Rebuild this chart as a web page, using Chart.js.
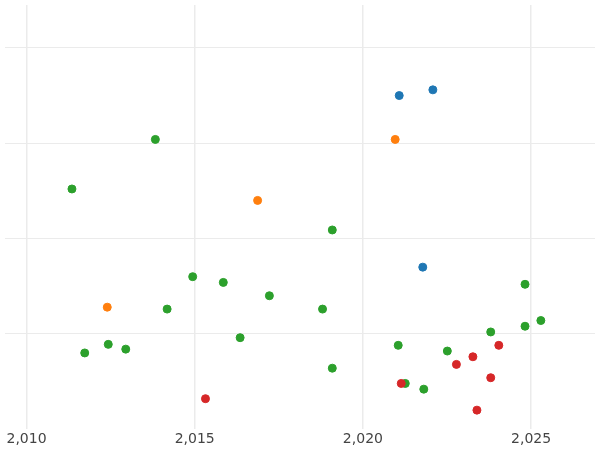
<!DOCTYPE html>
<html>
<head>
<script src="https://cdn.jsdelivr.net/npm/chart.js@4"></script>
<style>
  body { margin: 0; background: #fff; }
</style>
</head>
<body>
<canvas id="chart" width="600" height="450"></canvas>
<script>
const xTicks = [2010, 2015, 2020, 2025];
const yTicks = [1, 2, 3, 4];

const blueX = [2021.08, 2022.08, 2021.78];
const blueY = [3.50, 3.56, 1.70];
const orangeX = [2020.96, 2016.87, 2012.40];
const orangeY = [3.04, 2.40, 1.28];
const redX = [2015.32, 2021.14, 2022.78, 2023.27, 2024.04, 2023.80, 2023.39];
const redY = [0.32, 0.48, 0.68, 0.76, 0.88, 0.54, 0.20];
const greenX = [2011.35, 2013.83, 2019.09, 2014.94, 2015.85, 2017.22, 2014.18, 2018.80, 2016.35, 2011.73,
  2012.43, 2012.95, 2019.09, 2021.05, 2021.26, 2021.81, 2022.51, 2023.80, 2024.82, 2024.82, 2025.29];
const greenY = [2.52, 3.04, 2.09, 1.60, 1.54, 1.40, 1.26, 1.26, 0.96, 0.80,
  0.89, 0.84, 0.64, 0.88, 0.48, 0.42, 0.82, 1.02, 1.52, 1.08, 1.14];

function pts(xs, ys) {
  return xs.map((x, i) => ({ x: x, y: ys[i] }));
}

function series(xs, ys, color) {
  return {
    data: pts(xs, ys),
    backgroundColor: color,
    borderColor: color,
    pointRadius: 4,
    pointHoverRadius: 4
  };
}

new Chart(document.getElementById('chart'), {
  type: 'scatter',
  data: {
    datasets: [
      series(blueX, blueY, '#1f77b4'),
      series(orangeX, orangeY, '#ff7f0e'),
      series(redX, redY, '#d62728'),
      series(greenX, greenY, '#2ca02c')
    ]
  },
  options: {
    responsive: false,
    animation: false,
    layout: { padding: 0 },
    plugins: { legend: { display: false }, tooltip: { enabled: false } },
    scales: {
      x: {
        type: 'linear',
        min: 2009.36,
        max: 2026.9,
        afterBuildTicks: (axis) => { axis.ticks = xTicks.map(v => ({ value: v })); },
        ticks: { color: '#444', font: { family: 'DejaVu Sans', size: 14 }, padding: 2 },
        grid: { color: '#ebebeb', lineWidth: 1.5, drawTicks: false },
        border: { display: false }
      },
      y: {
        min: 0,
        max: 4.45,
        afterBuildTicks: (axis) => { axis.ticks = yTicks.map(v => ({ value: v })); },
        ticks: { display: false },
        grid: { color: '#ebebeb', lineWidth: 1, drawTicks: false },
        border: { display: false }
      }
    }
  }
});
</script>
</body>
</html>
